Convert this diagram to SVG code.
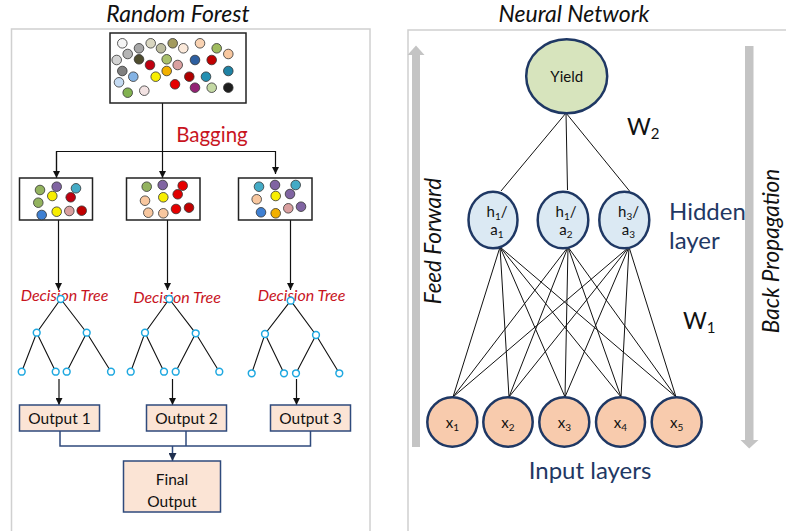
<svg xmlns="http://www.w3.org/2000/svg" width="786" height="531" viewBox="0 0 786 531">
  <style>
    .panel { fill: none; stroke: #d0d0d0; stroke-width: 1.5; }
    .title { font-family: Lato, "Open Sans", sans-serif; font-style: italic; font-size: 23px; fill: #111; text-anchor: middle; }
    .box { fill: #fff; stroke: #222; stroke-width: 1.5; }
    .dot { stroke: #333; stroke-width: 0.8; }
    .wire { fill: none; stroke: #111; stroke-width: 1.2; }
    .tree { fill: none; stroke: #111; stroke-width: 1.1; }
    .tn { fill: #fff; stroke: #1fa8e0; stroke-width: 1.5; }
    .red { font-family: Lato, "Open Sans", sans-serif; fill: #c8141e; text-anchor: middle; }
    .dt { font-style: italic; font-size: 16px; }
    .out { fill: #fbe4d5; stroke: #2f4a7c; stroke-width: 1.5; }
    .otxt { font-family: Lato, "Open Sans", sans-serif; font-size: 15.5px; fill: #111; text-anchor: middle; }
    .join { fill: none; stroke: #2f4a7c; stroke-width: 1.5; }
    .nn { fill: none; stroke: #111; stroke-width: 1; }
    .node { stroke: #1f3864; stroke-width: 2.5; }
    .ntxt { font-family: Lato, "Open Sans", sans-serif; font-size: 15px; fill: #111; text-anchor: middle; }
    .navy { font-family: Lato, "Open Sans", sans-serif; font-size: 24px; fill: #1f3864; }
    .w { font-family: Lato, "Open Sans", sans-serif; font-size: 23px; fill: #111; }
    .side { font-family: Lato, "Open Sans", sans-serif; font-style: italic; font-size: 22.5px; fill: #111; text-anchor: middle; }
    .bar { fill: #c4c4c4; }
  </style>
  <defs>
    <marker id="arr" viewBox="0 0 10 10" refX="10" refY="5" markerWidth="7" markerHeight="7" markerUnits="userSpaceOnUse" orient="auto">
      <path d="M0,0 L10,5 L0,10 z" fill="#111"/>
    </marker>
    <marker id="arrNavy" viewBox="0 0 10 10" refX="10" refY="5" markerWidth="8" markerHeight="8" markerUnits="userSpaceOnUse" orient="auto">
      <path d="M0,0 L10,5 L0,10 z" fill="#1f2f4f"/>
    </marker>
  </defs>

  <!-- ============ Random Forest panel ============ -->
  <rect class="panel" x="11.5" y="29" width="358.5" height="520"/>
  <text class="title" x="178" y="22">Random Forest</text>

  <!-- connectors -->
  <g id="rf-connectors">
    <line class="wire" x1="162.5" y1="103" x2="162.5" y2="178" marker-end="url(#arr)"/>
    <polyline class="wire" points="56.5,174 56.5,151.5 275.5,151.5 275.5,174" marker-end="url(#arr)"/>
    <line class="wire" x1="56.5" y1="151.5" x2="56.5" y2="178" marker-end="url(#arr)"/>
    <line class="wire" x1="58.5" y1="220" x2="58.5" y2="290" marker-end="url(#arr)"/>
    <line class="wire" x1="167.5" y1="220" x2="167.5" y2="290" marker-end="url(#arr)"/>
    <line class="wire" x1="290.5" y1="220" x2="290.5" y2="290" marker-end="url(#arr)"/>
    <line class="wire" x1="59" y1="379" x2="59" y2="405" marker-end="url(#arr)"/>
    <line class="wire" x1="172.5" y1="379" x2="172.5" y2="405" marker-end="url(#arr)"/>
    <line class="wire" x1="296.5" y1="379" x2="296.5" y2="405" marker-end="url(#arr)"/>
    <polyline class="join" points="60,431 60,446 310.5,446 310.5,431"/>
    <line class="join" x1="186" y1="431" x2="186" y2="446"/>
    <line class="join" x1="172.5" y1="446" x2="172.5" y2="461" marker-end="url(#arrNavy)"/>
  </g>

  <!-- full data set -->
  <g id="dataset">
    <rect class="box" x="110" y="33" width="136" height="70"/>
    <circle class="dot" cx="122.3" cy="43.3" r="4.8" fill="#f4f4f4"/>
    <circle class="dot" cx="139" cy="48.3" r="4.8" fill="#a6a6a6"/>
    <circle class="dot" cx="150.7" cy="43.3" r="4.8" fill="#d9d6c0"/>
    <circle class="dot" cx="161" cy="48.3" r="4.8" fill="#bcbc9e"/>
    <circle class="dot" cx="172.7" cy="43.3" r="4.8" fill="#a39b5e"/>
    <circle class="dot" cx="183.3" cy="48.3" r="4.8" fill="#fbe9da"/>
    <circle class="dot" cx="200" cy="43.3" r="4.8" fill="#f9d2b2"/>
    <circle class="dot" cx="216.7" cy="48.3" r="4.8" fill="#9fbb5e"/>
    <circle class="dot" cx="228.3" cy="54" r="4.8" fill="#f8c79f"/>
    <circle class="dot" cx="127.7" cy="54" r="4.8" fill="#b4b4b4"/>
    <circle class="dot" cx="116.7" cy="60" r="4.8" fill="#d4d4d4"/>
    <circle class="dot" cx="139" cy="59.3" r="4.8" fill="#4e4c2e"/>
    <circle class="dot" cx="166.7" cy="59.3" r="4.8" fill="#a9c06c"/>
    <circle class="dot" cx="195" cy="60" r="4.8" fill="#2e5fa0"/>
    <circle class="dot" cx="211.7" cy="60" r="4.8" fill="#c00000"/>
    <circle class="dot" cx="150" cy="65" r="4.8" fill="#c00010"/>
    <circle class="dot" cx="177.7" cy="65" r="4.8" fill="#daa0a0"/>
    <circle class="dot" cx="122.3" cy="71" r="4.8" fill="#808080"/>
    <circle class="dot" cx="166.7" cy="71" r="4.8" fill="#f2b000"/>
    <circle class="dot" cx="228.3" cy="71" r="4.8" fill="#1f82a4"/>
    <circle class="dot" cx="133.3" cy="76.7" r="4.8" fill="#84b3e4"/>
    <circle class="dot" cx="155.7" cy="76.7" r="4.8" fill="#f8ee00"/>
    <circle class="dot" cx="189.3" cy="76.7" r="4.8" fill="#b00000"/>
    <circle class="dot" cx="206" cy="76.7" r="4.8" fill="#2590b2"/>
    <circle class="dot" cx="119" cy="82.3" r="4.8" fill="#c4daf2"/>
    <circle class="dot" cx="175" cy="84.3" r="4.8" fill="#e60000"/>
    <circle class="dot" cx="195" cy="87.7" r="4.8" fill="#932274"/>
    <circle class="dot" cx="211.7" cy="87.7" r="4.8" fill="#c4d9a4"/>
    <circle class="dot" cx="228.3" cy="87.7" r="4.8" fill="#1e1e1e"/>
    <circle class="dot" cx="127.7" cy="92.7" r="4.8" fill="#82b250"/>
    <circle class="dot" cx="144.3" cy="90.7" r="4.8" fill="#f2e2e2"/>
  </g>

  <text class="red" x="212" y="141.5" font-size="20.5">Bagging</text>

  <!-- bootstrap samples -->
  <g id="sample-1">
    <rect class="box" x="19.5" y="178" width="73" height="42"/>
    <circle class="dot" cx="40" cy="190" r="4.8" fill="#93b35f"/>
    <circle class="dot" cx="56.7" cy="186.7" r="4.8" fill="#8064a2"/>
    <circle class="dot" cx="76" cy="188.3" r="4.8" fill="#44abc6"/>
    <circle class="dot" cx="52.3" cy="196" r="4.8" fill="#f8ee00"/>
    <circle class="dot" cx="70.7" cy="197.3" r="4.8" fill="#c00010"/>
    <circle class="dot" cx="38.3" cy="202.7" r="4.8" fill="#93b35f"/>
    <circle class="dot" cx="41.7" cy="215" r="4.8" fill="#3f80d2"/>
    <circle class="dot" cx="56.7" cy="211.7" r="4.8" fill="#f8ee00"/>
    <circle class="dot" cx="69.3" cy="211" r="4.8" fill="#daa0a0"/>
    <circle class="dot" cx="81.7" cy="210.7" r="4.8" fill="#c00000"/>
  </g>
  <g id="sample-2">
    <rect class="box" x="126.5" y="178" width="73.5" height="42"/>
    <circle class="dot" cx="146.7" cy="186.7" r="4.8" fill="#93b35f"/>
    <circle class="dot" cx="162.7" cy="185" r="4.8" fill="#8064a2"/>
    <circle class="dot" cx="182.7" cy="185.7" r="4.8" fill="#e60000"/>
    <circle class="dot" cx="145" cy="200.7" r="4.8" fill="#f8c79f"/>
    <circle class="dot" cx="163.3" cy="197.3" r="4.8" fill="#f8ee00"/>
    <circle class="dot" cx="177.7" cy="194.3" r="4.8" fill="#e00000"/>
    <circle class="dot" cx="148.3" cy="212.7" r="4.8" fill="#f8c79f"/>
    <circle class="dot" cx="163.3" cy="213.3" r="4.8" fill="#f8c79f"/>
    <circle class="dot" cx="176" cy="209" r="4.8" fill="#e60000"/>
    <circle class="dot" cx="189" cy="207.7" r="4.8" fill="#c00000"/>
  </g>
  <g id="sample-3">
    <rect class="box" x="238.5" y="178" width="73.5" height="42"/>
    <circle class="dot" cx="259" cy="186.7" r="4.8" fill="#44abc6"/>
    <circle class="dot" cx="275" cy="185" r="4.8" fill="#8064a2"/>
    <circle class="dot" cx="295.7" cy="185" r="4.8" fill="#44abc6"/>
    <circle class="dot" cx="256.7" cy="199.3" r="4.8" fill="#f8c79f"/>
    <circle class="dot" cx="275.7" cy="196" r="4.8" fill="#f8ee00"/>
    <circle class="dot" cx="290" cy="194" r="4.8" fill="#8064a2"/>
    <circle class="dot" cx="261" cy="212.3" r="4.8" fill="#3f80d2"/>
    <circle class="dot" cx="275.7" cy="213.3" r="4.8" fill="#f2b000"/>
    <circle class="dot" cx="288.3" cy="208.3" r="4.8" fill="#daa0a0"/>
    <circle class="dot" cx="301" cy="206.7" r="4.8" fill="#8064a2"/>
  </g>

  <!-- decision trees -->
  <g id="tree-1">
    <text class="red dt" x="64.5" y="300.5">Decision Tree</text>
    <path class="tree" d="M60.7,299 L36.7,332.7 L21.7,371.7 M36.7,332.7 L55.7,371.7 M60.7,299 L86.7,332.7 L66.7,371.7 M86.7,332.7 L111,371.7"/>
    <circle class="tn" cx="60.7" cy="299" r="3.4"/>
    <circle class="tn" cx="36.7" cy="332.7" r="3.4"/>
    <circle class="tn" cx="86.7" cy="332.7" r="3.4"/>
    <circle class="tn" cx="21.7" cy="371.7" r="3.4"/>
    <circle class="tn" cx="55.7" cy="371.7" r="3.4"/>
    <circle class="tn" cx="66.7" cy="371.7" r="3.4"/>
    <circle class="tn" cx="111" cy="371.7" r="3.4"/>
  </g>
  <g id="tree-2">
    <text class="red dt" x="177" y="302.5">Decision Tree</text>
    <path class="tree" d="M169.3,299 L145,332.7 L130.7,371.7 M145,332.7 L164,371.7 M169.3,299 L195.7,333.3 L175.7,371.7 M195.7,333.3 L219.3,371.7"/>
    <circle class="tn" cx="169.3" cy="299" r="3.4"/>
    <circle class="tn" cx="145" cy="332.7" r="3.4"/>
    <circle class="tn" cx="195.7" cy="333.3" r="3.4"/>
    <circle class="tn" cx="130.7" cy="371.7" r="3.4"/>
    <circle class="tn" cx="164" cy="371.7" r="3.4"/>
    <circle class="tn" cx="175.7" cy="371.7" r="3.4"/>
    <circle class="tn" cx="219.3" cy="371.7" r="3.4"/>
  </g>
  <g id="tree-3">
    <text class="red dt" x="301.5" y="300.5">Decision Tree</text>
    <path class="tree" d="M290.7,300.7 L265,334 L251.7,373.3 M265,334 L284,373.3 M290.7,300.7 L316,335 L296,373.3 M316,335 L339.3,373.3"/>
    <circle class="tn" cx="290.7" cy="300.7" r="3.4"/>
    <circle class="tn" cx="265" cy="334" r="3.4"/>
    <circle class="tn" cx="316" cy="335" r="3.4"/>
    <circle class="tn" cx="251.7" cy="373.3" r="3.4"/>
    <circle class="tn" cx="284" cy="373.3" r="3.4"/>
    <circle class="tn" cx="296" cy="373.3" r="3.4"/>
    <circle class="tn" cx="339.3" cy="373.3" r="3.4"/>
  </g>

  <!-- outputs -->
  <g id="output-1">
    <rect class="out" x="19.5" y="405" width="80" height="26"/>
    <text class="otxt" x="59.5" y="423.5">Output 1</text>
  </g>
  <g id="output-2">
    <rect class="out" x="146.5" y="405" width="80" height="26"/>
    <text class="otxt" x="186.5" y="423.5">Output 2</text>
  </g>
  <g id="output-3">
    <rect class="out" x="270.5" y="405" width="80" height="26"/>
    <text class="otxt" x="310.5" y="423.5">Output 3</text>
  </g>
  <g id="final-output">
    <rect class="out" x="123.5" y="461" width="97" height="51"/>
    <text class="otxt" x="172" y="484.5" font-size="19">Final</text>
    <text class="otxt" x="172" y="507" font-size="19">Output</text>
  </g>

  <!-- ============ Neural Network panel ============ -->
  <polyline class="panel" points="408,540 408,30 790,30"/>
  <text class="title" x="574" y="22">Neural Network</text>

  <!-- direction arrows -->
  <g id="feed-forward">
    <rect class="bar" x="412" y="54" width="8" height="393"/>
    <path class="bar" d="M407.5,55 L416,45.5 L424.5,55 z"/>
    <text class="side" transform="translate(441 241) rotate(-90)">Feed Forward</text>
  </g>
  <g id="back-propagation">
    <rect class="bar" x="745" y="46" width="8.5" height="395"/>
    <path class="bar" d="M740.5,440 L758.5,440 L749.2,448.5 z"/>
    <text class="side" transform="translate(779 251) rotate(-90)">Back Propagation</text>
  </g>

  <!-- weights -->
  <g id="connectors">
    <line class="nn" x1="566" y1="113" x2="501" y2="191"/>
    <line class="nn" x1="566" y1="113" x2="567.5" y2="190"/>
    <line class="nn" x1="566" y1="113" x2="629.5" y2="191"/>

    <line class="nn" x1="500" y1="247" x2="453" y2="397"/>
    <line class="nn" x1="500" y1="247" x2="509" y2="397"/>
    <line class="nn" x1="500" y1="247" x2="565" y2="397"/>
    <line class="nn" x1="500" y1="247" x2="621" y2="397"/>
    <line class="nn" x1="500" y1="247" x2="676" y2="397"/>

    <line class="nn" x1="568" y1="247" x2="453" y2="397"/>
    <line class="nn" x1="568" y1="247" x2="509" y2="397"/>
    <line class="nn" x1="568" y1="247" x2="565" y2="397"/>
    <line class="nn" x1="568" y1="247" x2="621" y2="397"/>
    <line class="nn" x1="568" y1="247" x2="676" y2="397"/>

    <line class="nn" x1="629" y1="247" x2="453" y2="397"/>
    <line class="nn" x1="629" y1="247" x2="509" y2="397"/>
    <line class="nn" x1="629" y1="247" x2="565" y2="397"/>
    <line class="nn" x1="629" y1="247" x2="621" y2="397"/>
    <line class="nn" x1="629" y1="247" x2="676" y2="397"/>
  </g>

  <text class="w" x="627" y="135">W<tspan font-size="15" dy="4">2</tspan></text>
  <text class="w" x="683" y="329">W<tspan font-size="15" dy="4">1</tspan></text>

  <!-- output layer -->
  <g id="yield">
    <ellipse class="node" cx="566.7" cy="76.3" rx="40.5" ry="37" fill="#d7e4bd"/>
    <text class="ntxt" x="566.7" y="81.5" font-size="16">Yield</text>
  </g>

  <!-- hidden layer: each label is one text block of two lines -->
  <g id="hidden-1">
    <ellipse class="node" cx="493" cy="220" rx="24.5" ry="28.3" fill="#dbe9f3"/>
    <text class="ntxt"><tspan x="497" y="217">h</tspan><tspan font-size="10" dy="2.5">1</tspan><tspan dy="-2.5">/</tspan><tspan x="497" y="235">a</tspan><tspan font-size="10" dy="2.5">1</tspan></text>
  </g>
  <g id="hidden-2">
    <ellipse class="node" cx="563" cy="220" rx="25.3" ry="28.3" fill="#dbe9f3"/>
    <text class="ntxt"><tspan x="566" y="217">h</tspan><tspan font-size="10" dy="2.5">1</tspan><tspan dy="-2.5">/</tspan><tspan x="566" y="235">a</tspan><tspan font-size="10" dy="2.5">2</tspan></text>
  </g>
  <g id="hidden-3">
    <ellipse class="node" cx="624.3" cy="220" rx="25" ry="28.3" fill="#dbe9f3"/>
    <text class="ntxt"><tspan x="628.5" y="217">h</tspan><tspan font-size="10" dy="2.5">3</tspan><tspan dy="-2.5">/</tspan><tspan x="628.5" y="235">a</tspan><tspan font-size="10" dy="2.5">3</tspan></text>
  </g>
  <text class="navy" x="669" y="220">Hidden</text>
  <text class="navy" x="669" y="249">layer</text>

  <!-- input layer -->
  <g id="input-1">
    <ellipse class="node" cx="452.3" cy="422" rx="25" ry="24.7" fill="#f8cbad"/>
    <text class="ntxt" x="452.3" y="428">x<tspan font-size="10" dy="3">1</tspan></text>
  </g>
  <g id="input-2">
    <ellipse class="node" cx="508" cy="422" rx="24.7" ry="24.7" fill="#f8cbad"/>
    <text class="ntxt" x="508" y="428">x<tspan font-size="10" dy="3">2</tspan></text>
  </g>
  <g id="input-3">
    <ellipse class="node" cx="564.3" cy="422" rx="25" ry="24.7" fill="#f8cbad"/>
    <text class="ntxt" x="564.3" y="428">x<tspan font-size="10" dy="3">3</tspan></text>
  </g>
  <g id="input-4">
    <ellipse class="node" cx="620.5" cy="422" rx="24.5" ry="24.7" fill="#f8cbad"/>
    <text class="ntxt" x="620.5" y="428">x<tspan font-size="10" dy="3">4</tspan></text>
  </g>
  <g id="input-5">
    <ellipse class="node" cx="676.7" cy="422" rx="25" ry="24.7" fill="#f8cbad"/>
    <text class="ntxt" x="676.7" y="428">x<tspan font-size="10" dy="3">5</tspan></text>
  </g>
  <text class="navy" x="590" y="479" text-anchor="middle" font-size="25">Input layers</text>
</svg>
